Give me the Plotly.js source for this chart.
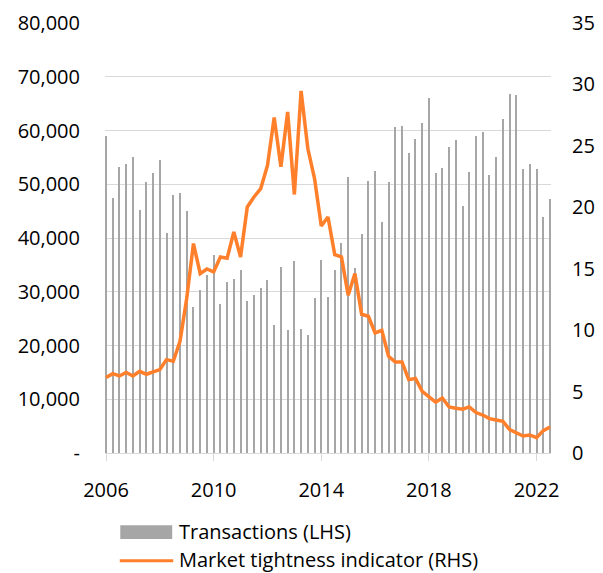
<!DOCTYPE html>
<html>
<head>
<meta charset="utf-8">
<script src="https://cdn.plot.ly/plotly-3.0.1.min.js"></script>
<style>html,body{margin:0;padding:0;background:#fff;}#chart{width:603px;height:573px;}</style>
</head>
<body>
<div id="chart"></div>
<script>
// Quarterly periods, 2006 Q1 .. 2022 Q3
const quarters = [];
for (let y = 2006; y <= 2022; y++) { for (let q = 1; q <= 4; q++) { if (y === 2022 && q > 3) break; quarters.push(y + " Q" + q); } }

const transactions = [
  59000, 47500, 53150, 53800, 55100, 45200, 50400, 52100, 54600, 40900,
  48050, 48360, 44950, 27130, 30300, 33090, 36800, 27630, 31790, 32290,
  34080, 28250, 29420, 30730, 32100, 23840, 34580, 22910, 35700, 23030,
  22040, 28870, 35890, 28990, 34080, 39110, 51280, 34390, 40730, 50540,
  52460, 42900, 50350, 60710, 60900, 55870, 58420, 61400, 66110, 52090,
  52960, 56870, 58170, 46000, 52330, 58920, 59720, 51660, 55010, 62200,
  66850, 66670, 52830, 53820, 52830, 43890, 47300
];

const tightness = [
  6.14, 6.46, 6.27, 6.55, 6.27, 6.65, 6.41, 6.60, 6.79, 7.60,
  7.47, 9.09, 12.6, 17.05, 14.6, 14.98, 14.74, 15.96, 15.85, 17.99,
  15.96, 20.03, 20.84, 21.52, 23.4, 27.3, 23.3, 27.76, 21.04, 29.47,
  24.78, 22.34, 18.48, 19.21, 16.15, 15.96, 12.84, 14.6, 11.29, 11.13,
  9.77, 9.99, 7.87, 7.41, 7.41, 5.97, 6.06, 5.02, 4.62, 4.15,
  4.48, 3.75, 3.64, 3.56, 3.75, 3.29, 3.09, 2.80, 2.69, 2.58,
  1.90, 1.66, 1.38, 1.47, 1.25, 1.82, 2.12
];

const yearTickIdx = [0, 16, 32, 48, 64];
const yearTickText = ["2006", "2010", "2014", "2018", "2022"];
const leftTickVals = [0, 10000, 20000, 30000, 40000, 50000, 60000, 70000, 80000];
const leftTickText = ["-", "10,000", "20,000", "30,000", "40,000", "50,000", "60,000", "70,000", "80,000"];
const rightTickVals = [0, 5, 10, 15, 20, 25, 30, 35];
const seriesNames = ["Transactions (LHS)", "Market tightness indicator (RHS)"];

const idx = quarters.map((_, i) => i);

const W = 603, H = 573;
const M = {l: 104.7, r: 51.7, t: 23, b: 120};
const PW = W - M.l - M.r, PH = H - M.t - M.b;
const px = x => (x - M.l) / PW;
const py = y => (H - M.b - y) / PH;

const FONT = "Open Sans, Noto Sans, sans-serif";
const GRAY = "#A6A6A6";
const ORANGE = "#FF7F2A";

const traces = [
  {
    type: "bar", x: idx, y: transactions, name: seriesNames[0],
    marker: {color: GRAY, line: {width: 0}}, width: 0.3,
    hovertext: quarters, showlegend: false
  },
  {
    type: "scatter", mode: "lines", x: idx, y: tightness, name: seriesNames[1],
    yaxis: "y2", line: {color: ORANGE, width: 3.5}, hovertext: quarters, showlegend: false
  }
];

const layout = {
  width: W, height: H,
  margin: M,
  paper_bgcolor: "#fff", plot_bgcolor: "#fff",
  font: {family: FONT, size: 20, color: "#000"},
  showlegend: false,
  bargap: 0,
  xaxis: {
    range: [-0.15, 66.15], tickmode: "array", tickvals: yearTickIdx, ticktext: yearTickText,
    showgrid: false, zeroline: false, showline: true, linecolor: "#D9D9D9", linewidth: 1,
    ticks: "outside", ticklen: 7, tickcolor: "#D9D9D9", tickwidth: 1,
    ticklabelstandoff: 12, tickfont: {family: FONT, size: 20, color: "#000"}
  },
  yaxis: {
    range: [0, 80000], tickmode: "array", tickvals: leftTickVals, ticktext: leftTickText,
    showgrid: true, gridcolor: "#D9D9D9", gridwidth: 1, zeroline: false, showline: false,
    ticks: "", ticklabelstandoff: 24, tickfont: {family: FONT, size: 20, color: "#000"}
  },
  yaxis2: {
    range: [0, 35], overlaying: "y", side: "right", tickmode: "array", tickvals: rightTickVals,
    showgrid: false, zeroline: false, showline: false, ticks: "",
    ticklabelstandoff: 20, tickfont: {family: FONT, size: 20, color: "#000"}
  },
  shapes: [
    {type: "rect", xref: "paper", yref: "paper", x0: px(120), x1: px(172), y0: py(539), y1: py(525.3),
     fillcolor: GRAY, line: {width: 0}},
    {type: "line", xref: "paper", yref: "paper", x0: px(119.5), x1: px(173), y0: py(560.7), y1: py(560.7),
     line: {color: ORANGE, width: 3}}
  ],
  annotations: [
    {xref: "paper", yref: "paper", x: px(177), y: py(531), xanchor: "left", yanchor: "middle",
     text: seriesNames[0], showarrow: false, font: {family: FONT, size: 20, color: "#000"}},
    {xref: "paper", yref: "paper", x: px(177), y: py(559), xanchor: "left", yanchor: "middle",
     text: seriesNames[1], showarrow: false, font: {family: FONT, size: 20, color: "#000"}}
  ]
};

Plotly.newPlot("chart", traces, layout, {displayModeBar: false, staticPlot: true});
</script>
</body>
</html>
